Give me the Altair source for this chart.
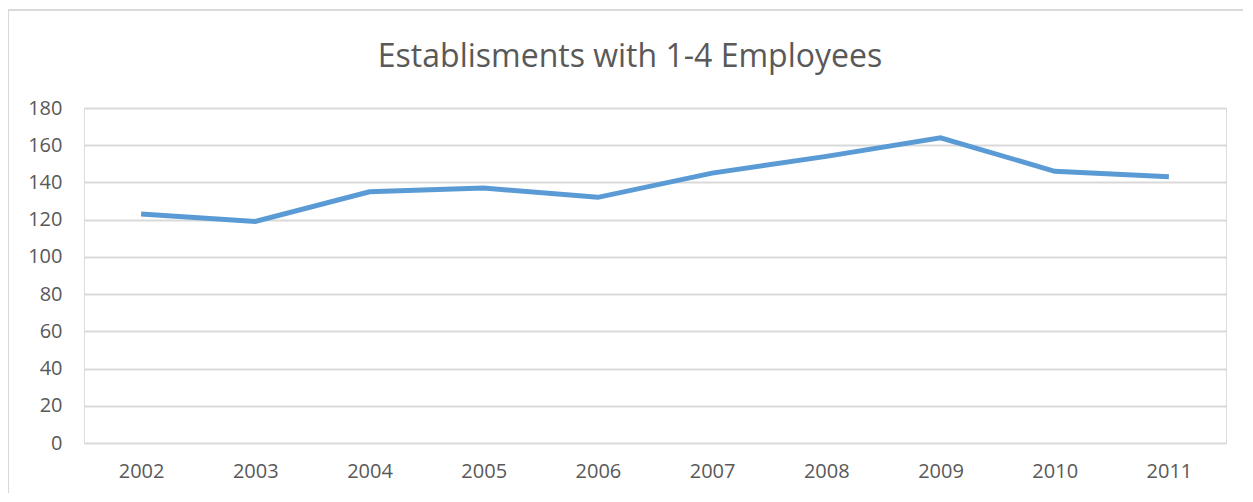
import altair as alt
import pandas as pd

years = ["2002", "2003", "2004", "2005", "2006", "2007", "2008", "2009", "2010", "2011"]
values = [123, 119, 135, 137, 132, 145, 154, 164, 146, 143]
y_ticks = [0, 20, 40, 60, 80, 100, 120, 140, 160, 180]
title_text = "Establisments with 1-4 Employees"

df = pd.DataFrame({"year": years, "value": values})

FONT = "Open Sans"
TXT = "#595959"

line = alt.Chart(df).mark_line(color="#5b9bd5", strokeWidth=5, strokeJoin="miter").encode(
    x=alt.X("year:N", sort=years, scale=alt.Scale(paddingInner=0, paddingOuter=0, align=0.5),
            axis=alt.Axis(title=None, labelAngle=0, ticks=False, domain=False, grid=False,
                          labelFont=FONT, labelFontSize=20, labelColor=TXT, labelPadding=18)),
    y=alt.Y("value:Q", scale=alt.Scale(domain=[0, 180], nice=False),
            axis=alt.Axis(title=None, values=y_ticks, ticks=False, domain=False,
                          gridColor="#d9d9d9", gridWidth=2,
                          labelFont=FONT, labelFontSize=20, labelColor=TXT, labelPadding=22)),
)

border = alt.Chart(pd.DataFrame({"a": [0]})).mark_rect(
    fill=None, stroke="#d9d9d9", strokeWidth=2
).encode(
    x=alt.value(-76), x2=alt.value(1250), y=alt.value(-98), y2=alt.value(500)
)

title = alt.Chart(pd.DataFrame({"t": [title_text]})).mark_text(
    font=FONT, fontSize=32, color=TXT, align="center", baseline="alphabetic"
).encode(
    text="t:N", x=alt.value(546), y=alt.value(-41)
)

chart = alt.layer(border, line, title).properties(
    width=1142, height=335,
    padding={"left": 76, "top": 100, "right": 17, "bottom": 50},
    autosize=alt.AutoSizeParams(type="none"),
).configure_view(stroke=None).configure(background="white")

chart.save("out.html", embed_options={"renderer": "svg", "actions": False})
